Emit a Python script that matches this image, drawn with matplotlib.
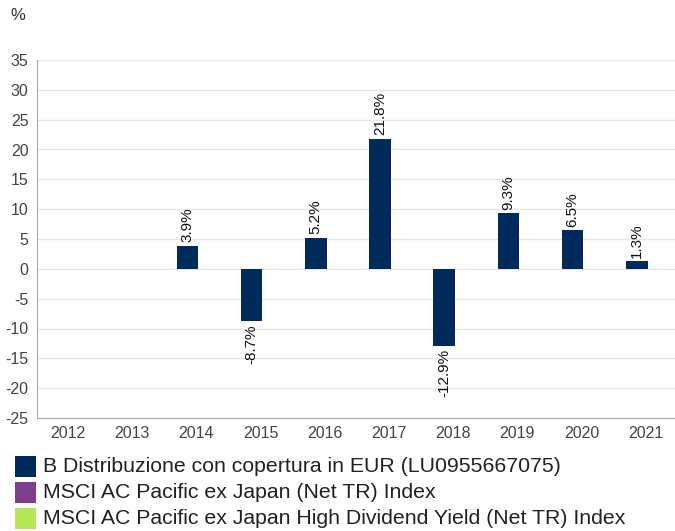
import numpy as np
import matplotlib.pyplot as plt
from matplotlib.patches import Rectangle

plt.rcParams["font.family"] = ["Liberation Sans", "DejaVu Sans"]

# data
years = ["2012", "2013", "2014", "2015", "2016", "2017", "2018", "2019", "2020", "2021"]
fund_values = [np.nan, np.nan, 3.9, -8.7, 5.2, 21.8, -12.9, 9.3, 6.5, 1.3]
series_names = [
    "B Distribuzione con copertura in EUR (LU0955667075)",
    "MSCI AC Pacific ex Japan (Net TR) Index",
    "MSCI AC Pacific ex Japan High Dividend Yield (Net TR) Index",
]
series_colors = ["#002a5c", "#7b3f8c", "#b5e655"]

W, H = 675, 531
fig = plt.figure(figsize=(W / 100, H / 100), dpi=100)
ax = fig.add_axes([37 / W, 113 / H, 1 - 37 / W, (418 - 60) / H])

x = np.arange(len(years))
ax.bar(x - 0.14, fund_values, width=0.335, color=series_colors[0], zorder=3)

for xi, v in zip(x, fund_values):
    if np.isnan(v):
        continue
    off = 2.5 if v >= 0 else -2.5
    ax.annotate(f"{v:.1f}%", (xi - 0.14, v), xytext=(0, off), textcoords="offset points",
                rotation=90, ha="center", va="bottom" if v >= 0 else "top",
                fontsize=11, color="#111111")

ax.set_xlim(-0.483, 9.455)
ax.set_ylim(-25, 35)
yt = np.arange(-25, 36, 5)
ax.set_yticks(yt)
ax.set_yticklabels([str(t) for t in yt])  # plain hyphen like the original
ax.set_xticks(x)
ax.set_xticklabels(years)
ax.tick_params(length=0, labelsize=11.5, labelcolor="#444444")
ax.tick_params(axis="x", pad=6)
ax.tick_params(axis="y", pad=6)
ax.grid(axis="y", color="#e6e6e6", lw=1, zorder=0)
for s in ["top", "right"]:
    ax.spines[s].set_visible(False)
for s in ["left", "bottom"]:
    ax.spines[s].set_color("#aaaaaa")

fig.text(10 / W, 1 - 16 / H, "%", fontsize=12, color="#333333", va="center", ha="left")

# legend drawn by hand: 21px squares, 26px row pitch
for i, (name, c) in enumerate(zip(series_names, series_colors)):
    top = 456 + 26 * i
    fig.patches.append(Rectangle((15 / W, 1 - (top + 21) / H), 21 / W, 21 / H,
                                 transform=fig.transFigure, facecolor=c, edgecolor="none"))
    fig.text(43 / W, 1 - (top + 11) / H, name, fontsize=15.3, color="#222222",
             va="center", ha="left")

fig.savefig("out.png", dpi=100)
